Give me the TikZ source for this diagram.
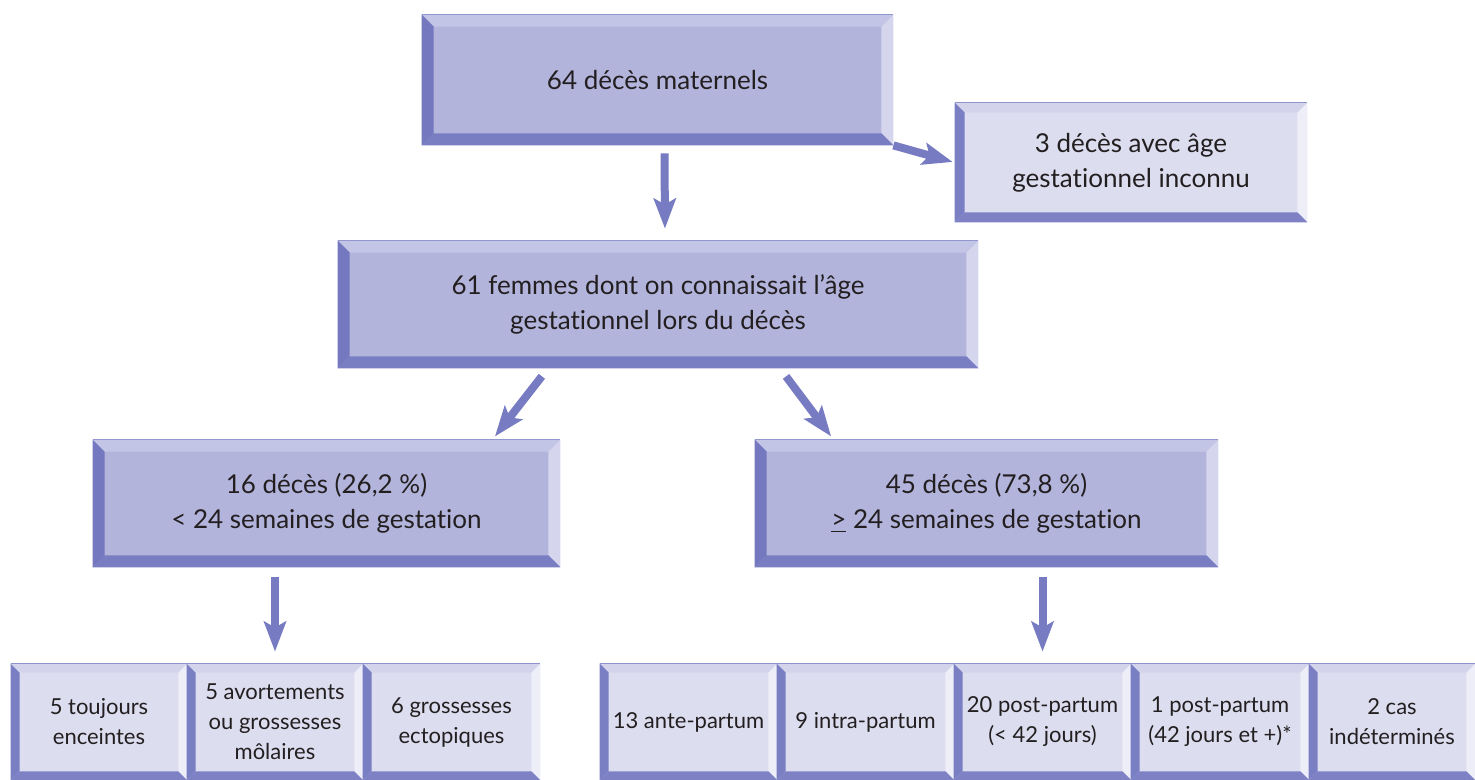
\documentclass[tikz,border=0pt]{standalone}
\usepackage{fontspec}
\setmainfont{Lato}[Ligatures=NoCommon]
\usetikzlibrary{arrows.meta,calc}
\definecolor{mfText}{HTML}{231F20}
\definecolor{mainFace}{HTML}{B2B4DC}
\definecolor{mainTop}{HTML}{C3C5E6}
\definecolor{mainRight}{HTML}{D5D6EE}
\definecolor{mainBot}{HTML}{797DC2}
\definecolor{mainLeft}{HTML}{7478BF}
\definecolor{mainEdge}{HTML}{9397CF}
\definecolor{liteFace}{HTML}{DCDDEF}
\definecolor{liteTop}{HTML}{D3D4EC}
\definecolor{liteRight}{HTML}{EDEEF8}
\definecolor{liteBot}{HTML}{7E82C5}
\definecolor{liteLeft}{HTML}{7A7EC3}
\definecolor{liteEdge}{HTML}{8E92CD}
\definecolor{mfArrow}{HTML}{777BC1}
\tikzset{
  mfbox/.style={inner sep=0pt, align=center, text=mfText,
    font=\fontsize{13}{17.5}\selectfont},
  mainbox/.style={mfbox, fill=mainFace},
  litebox/.style={mfbox, fill=liteFace},
  smallbox/.style={litebox, font=\fontsize{11}{15}\selectfont},
  bsize/.style 2 args={minimum width=#1*0.5pt, minimum height=#2*0.5pt},
  bevarrow/.style={-{Stealth[length=15pt, width=11pt, inset=3pt]},
    line width=4pt, draw=mfArrow}
}
% bevelled frame round a box: node, band width, palette
\newcommand{\bevel}[3]{%
  \fill[#3Top] (#1.north west) -- (#1.north east) -- ($(#1.north east)+(-#2,#2)$) -- ($(#1.north west)+(#2,#2)$) -- cycle;
  \fill[#3Right] (#1.north east) -- (#1.south east) -- ($(#1.south east)+(-#2,-#2)$) -- ($(#1.north east)+(-#2,#2)$) -- cycle;
  \fill[#3Bot] (#1.south east) -- (#1.south west) -- ($(#1.south west)+(#2,-#2)$) -- ($(#1.south east)+(-#2,-#2)$) -- cycle;
  \fill[#3Left] (#1.south west) -- (#1.north west) -- ($(#1.north west)+(#2,#2)$) -- ($(#1.south west)+(#2,-#2)$) -- cycle;
  \draw[#3Edge, line width=0.8pt] (#1.north west) -- (#1.north east);
}
\begin{document}
\begin{tikzpicture}[x=0.5pt, y=-0.5pt]
  \useasboundingbox (0,0) rectangle (1475,780);

  % top levels
  \node[mainbox, bsize={471}{130}] (total) at (657.5,80) {64 décès maternels};
  \node[litebox, bsize={352}{119}] (unknown) at (1131,162.5) {3 décès avec âge\\gestationnel inconnu};
  \node[mainbox, bsize={640}{127}] (known) at (658,304.5) {61 femmes dont on connaissait l’âge\\gestationnel lors du décès};
  \node[mainbox, bsize={467}{127}] (early) at (326.5,503.5) {16 décès (26,2 \%)\\< 24 semaines de gestation};
  \node[mainbox, bsize={463}{127}] (late) at (986.5,503.5) {45 décès (73,8 \%)\\\underline{>} 24 semaines de gestation};
  \foreach \n in {total, known, early, late} {\bevel{\n}{12}{main}}
  \bevel{unknown}{10}{lite}

  % bottom row
  \foreach \i/\cx/\w/\txt in {
    1/99/176/{5 toujours\\enceintes},
    2/275/176/{5 avortements\\ou grossesses\\môlaires},
    3/451.5/177/{6 grossesses\\ectopiques}} {
    \node[smallbox, bsize={\w}{116}] (early\i) at (\cx,722) {\txt};
    \bevel{early\i}{9}{lite}
  }
  \foreach \i/\cx/\w/\txt in {
    1/688.5/177/{13 ante-partum},
    2/865.5/177/{9 intra-partum},
    3/1042.5/177/{20 post-partum\\(< 42 jours)},
    4/1220/178/{1 post-partum\\(42 jours et +)*},
    5/1392/166/{2 cas\\indéterminés}} {
    \node[smallbox, bsize={\w}{116}] (late\i) at (\cx,722) {\txt};
    \bevel{late\i}{9}{lite}
  }

  % arrows
  \draw[bevarrow, shorten <=4pt, shorten >=6pt] ($(total.south)+(7,0)$) -- ($(known.north)+(7,0)$);
  \draw[bevarrow, shorten >=1pt] (total.south east) -- (unknown.west);
  \draw[bevarrow, shorten <=5pt, shorten >=2pt] ($(known.south)+(-110,0)$) -- ($(early.north)+(166,0)$);
  \draw[bevarrow, shorten <=5pt, shorten >=2pt] ($(known.south)+(122,0)$) -- ($(late.north)+(-153,0)$);
  \draw[bevarrow, shorten <=5pt, shorten >=6pt] (early.south -| early2) -- (early2.north);
  \draw[bevarrow, shorten <=5pt, shorten >=6pt] (late.south -| late3) -- (late3.north);
\end{tikzpicture}
\end{document}
